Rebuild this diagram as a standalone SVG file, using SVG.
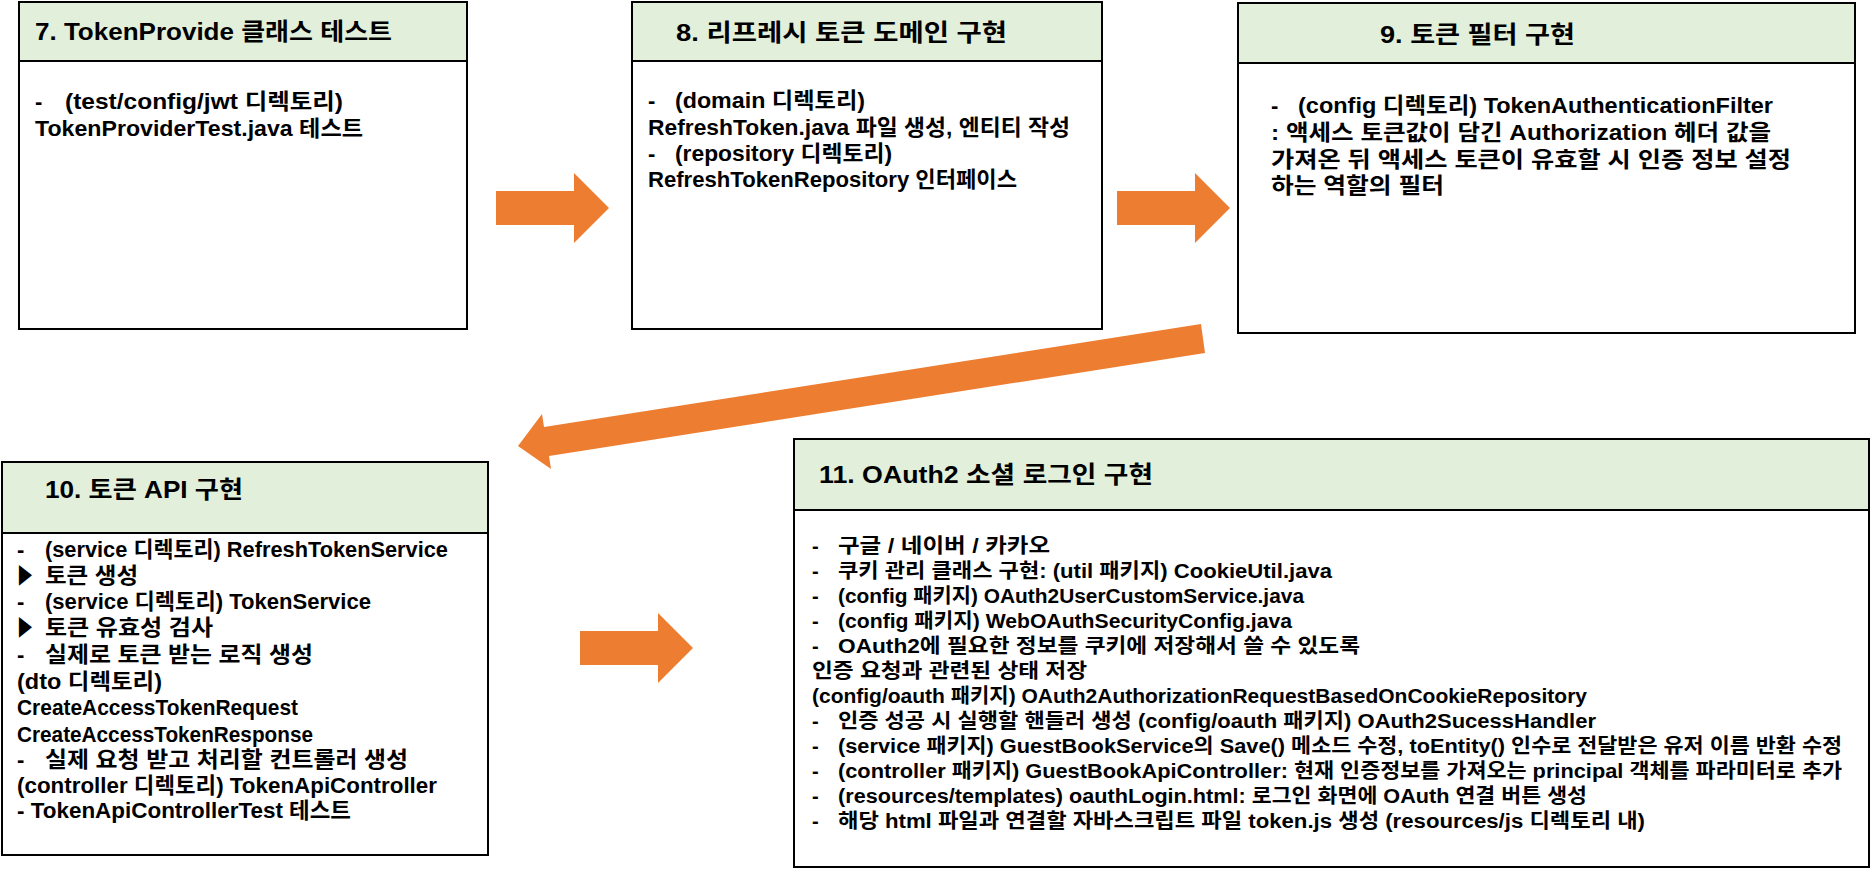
<svg xmlns="http://www.w3.org/2000/svg" width="1871" height="881" viewBox="0 0 1871 881">
<style>
.box{fill:#FFFFFF;stroke:#000000;stroke-width:2}
.hdr{fill:#E2EFDA;stroke:#000000;stroke-width:2}
text{font-family:"Liberation Sans","Noto Sans CJK KR",sans-serif;font-weight:bold;fill:#000000}
.t{font-size:24px}
.b{font-size:22px}
.s{font-size:20px}
.arr{fill:#ED7D31;stroke:none}
</style>
<rect x="0" y="0" width="1871" height="881" fill="#FFFFFF"/>

<g id="connectors">
<polygon class="arr" points="496,191 574,191 574,173 609,208 574,243 574,225 496,225"/>
<polygon class="arr" points="1117,191 1195,191 1195,173 1230,208 1195,243 1195,225 1117,225"/>
<polygon class="arr" points="1201,324 544,427 542,414 518,446 551,469 549,456 1205,353"/>
<polygon class="arr" points="580,631 658,631 658,613 693,648 658,683 658,665 580,665"/>
</g>

<g id="n7">
<rect class="box" x="19" y="2" width="448" height="327"/>
<rect class="hdr" x="19" y="2" width="448" height="59"/>
<text class="t" x="35" y="40" textLength="357" lengthAdjust="spacingAndGlyphs">7. TokenProvide 클래스 테스트</text>
<text class="b" x="35" y="109">-</text>
<text class="b" x="65" y="109" textLength="278" lengthAdjust="spacingAndGlyphs">(test/config/jwt 디렉토리)</text>
<text class="b" x="35" y="136" textLength="328" lengthAdjust="spacingAndGlyphs">TokenProviderTest.java 테스트</text>
</g>

<g id="n8">
<rect class="box" x="632" y="2" width="470" height="327"/>
<rect class="hdr" x="632" y="2" width="470" height="59"/>
<text class="t" x="676" y="41" textLength="331" lengthAdjust="spacingAndGlyphs">8. 리프레시 토큰 도메인 구현</text>
<text class="b" x="648" y="108">-</text>
<text class="b" x="675" y="108" textLength="190" lengthAdjust="spacingAndGlyphs">(domain 디렉토리)</text>
<text class="b" x="648" y="135" textLength="422" lengthAdjust="spacingAndGlyphs">RefreshToken.java 파일 생성, 엔티티 작성</text>
<text class="b" x="648" y="161">-</text>
<text class="b" x="675" y="161" textLength="217" lengthAdjust="spacingAndGlyphs">(repository 디렉토리)</text>
<text class="b" x="648" y="187" textLength="369" lengthAdjust="spacingAndGlyphs">RefreshTokenRepository 인터페이스</text>
</g>

<g id="n9">
<rect class="box" x="1238" y="3" width="617" height="330"/>
<rect class="hdr" x="1238" y="3" width="617" height="60"/>
<text class="t" x="1380" y="43" textLength="195" lengthAdjust="spacingAndGlyphs">9. 토큰 필터 구현</text>
<text class="b" x="1271" y="113">-</text>
<text class="b" x="1298" y="113" textLength="475" lengthAdjust="spacingAndGlyphs">(config 디렉토리) TokenAuthenticationFilter</text>
<text class="b" x="1271" y="140" textLength="500" lengthAdjust="spacingAndGlyphs">: 액세스 토큰값이 담긴 Authorization 헤더 값을</text>
<text class="b" x="1271" y="167" textLength="520" lengthAdjust="spacingAndGlyphs">가져온 뒤 액세스 토큰이 유효할 시 인증 정보 설정</text>
<text class="b" x="1271" y="193" textLength="173" lengthAdjust="spacingAndGlyphs">하는 역할의 필터</text>
</g>

<g id="n10">
<rect class="box" x="2" y="462" width="486" height="393"/>
<rect class="hdr" x="2" y="462" width="486" height="71"/>
<text class="t" x="45" y="498" textLength="198" lengthAdjust="spacingAndGlyphs">10. 토큰 API 구현</text>
<text class="b" x="17" y="557">-</text>
<text class="b" x="45" y="557" textLength="403" lengthAdjust="spacingAndGlyphs">(service 디렉토리) RefreshTokenService</text>
<text class="b" x="17" y="583" textLength="16" lengthAdjust="spacingAndGlyphs">▶</text>
<text class="b" x="45" y="583" textLength="93" lengthAdjust="spacingAndGlyphs">토큰 생성</text>
<text class="b" x="17" y="609">-</text>
<text class="b" x="45" y="609" textLength="326" lengthAdjust="spacingAndGlyphs">(service 디렉토리) TokenService</text>
<text class="b" x="17" y="635" textLength="16" lengthAdjust="spacingAndGlyphs">▶</text>
<text class="b" x="45" y="635" textLength="168" lengthAdjust="spacingAndGlyphs">토큰 유효성 검사</text>
<text class="b" x="17" y="662">-</text>
<text class="b" x="45" y="662" textLength="268" lengthAdjust="spacingAndGlyphs">실제로 토큰 받는 로직 생성</text>
<text class="b" x="17" y="689" textLength="145" lengthAdjust="spacingAndGlyphs">(dto 디렉토리)</text>
<text class="b" x="17" y="715" textLength="281" lengthAdjust="spacingAndGlyphs">CreateAccessTokenRequest</text>
<text class="b" x="17" y="742" textLength="296" lengthAdjust="spacingAndGlyphs">CreateAccessTokenResponse</text>
<text class="b" x="17" y="767">-</text>
<text class="b" x="45" y="767" textLength="363" lengthAdjust="spacingAndGlyphs">실제 요청 받고 처리할 컨트롤러 생성</text>
<text class="b" x="17" y="793" textLength="420" lengthAdjust="spacingAndGlyphs">(controller 디렉토리) TokenApiController</text>
<text class="b" x="17" y="818" textLength="334" lengthAdjust="spacingAndGlyphs">- TokenApiControllerTest 테스트</text>
</g>

<g id="n11">
<rect class="box" x="794" y="439" width="1075" height="428"/>
<rect class="hdr" x="794" y="439" width="1075" height="71"/>
<text class="t" x="819" y="483" textLength="334" lengthAdjust="spacingAndGlyphs">11. OAuth2 소셜 로그인 구현</text>
<text class="s" x="812" y="553">-</text>
<text class="s" x="838" y="553" textLength="212" lengthAdjust="spacingAndGlyphs">구글 / 네이버 / 카카오</text>
<text class="s" x="812" y="578">-</text>
<text class="s" x="838" y="578" textLength="494" lengthAdjust="spacingAndGlyphs">쿠키 관리 클래스 구현: (util 패키지) CookieUtil.java</text>
<text class="s" x="812" y="603">-</text>
<text class="s" x="838" y="603" textLength="466" lengthAdjust="spacingAndGlyphs">(config 패키지) OAuth2UserCustomService.java</text>
<text class="s" x="812" y="628">-</text>
<text class="s" x="838" y="628" textLength="454" lengthAdjust="spacingAndGlyphs">(config 패키지) WebOAuthSecurityConfig.java</text>
<text class="s" x="812" y="653">-</text>
<text class="s" x="838" y="653" textLength="522" lengthAdjust="spacingAndGlyphs">OAuth2에 필요한 정보를 쿠키에 저장해서 쓸 수 있도록</text>
<text class="s" x="812" y="678" textLength="275" lengthAdjust="spacingAndGlyphs">인증 요청과 관련된 상태 저장</text>
<text class="s" x="812" y="703" textLength="775" lengthAdjust="spacingAndGlyphs">(config/oauth 패키지) OAuth2AuthorizationRequestBasedOnCookieRepository</text>
<text class="s" x="812" y="728">-</text>
<text class="s" x="838" y="728" textLength="758" lengthAdjust="spacingAndGlyphs">인증 성공 시 실행할 핸들러 생성 (config/oauth 패키지) OAuth2SucessHandler</text>
<text class="s" x="812" y="753">-</text>
<text class="s" x="838" y="753" textLength="1004" lengthAdjust="spacingAndGlyphs">(service 패키지) GuestBookService의 Save() 메소드 수정, toEntity() 인수로 전달받은 유저 이름 반환 수정</text>
<text class="s" x="812" y="778">-</text>
<text class="s" x="838" y="778" textLength="1004" lengthAdjust="spacingAndGlyphs">(controller 패키지) GuestBookApiController: 현재 인증정보를 가져오는 principal 객체를 파라미터로 추가</text>
<text class="s" x="812" y="803">-</text>
<text class="s" x="838" y="803" textLength="749" lengthAdjust="spacingAndGlyphs">(resources/templates) oauthLogin.html: 로그인 화면에 OAuth 연결 버튼 생성</text>
<text class="s" x="812" y="828">-</text>
<text class="s" x="838" y="828" textLength="807" lengthAdjust="spacingAndGlyphs">해당 html 파일과 연결할 자바스크립트 파일 token.js 생성 (resources/js 디렉토리 내)</text>
</g>
</svg>
